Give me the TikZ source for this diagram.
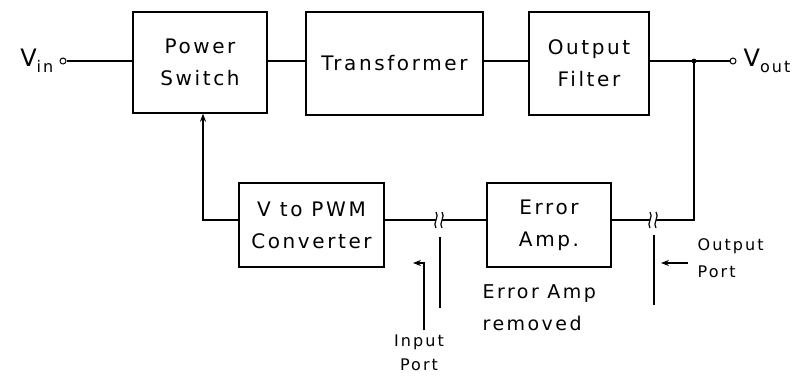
\documentclass[tikz,border=0pt]{standalone}
\usepackage{fontspec}
\setmainfont{DejaVu Sans}[LetterSpace=13]
\usetikzlibrary{arrows.meta}
\begin{document}
\begin{tikzpicture}[x=1pt,y=-1pt,
  line width=1.3pt,
  blk/.style={draw, line width=1.4pt, align=center, inner sep=0pt,
    font=\fontsize{20}{32}\selectfont},
  lbl/.style={align=left, inner sep=0pt, font=\fontsize{16}{27}\selectfont},
  term/.style={circle, draw, line width=1pt, minimum size=6pt, inner sep=0pt, fill=white},
  tip/.style={-{Stealth[length=8pt,width=6pt]}}]
\useasboundingbox (0,0) rectangle (798,376);
% blocks
\node[blk, minimum width=134pt, minimum height=101pt] (ps) at (200,62.5) {Power\\Switch};
\node[blk, minimum width=177pt, minimum height=103pt] (tr) at (394.5,63.5) {Transformer};
\node[blk, minimum width=120pt, minimum height=103pt] (of) at (589,63.5) {Output\\Filter};
\node[blk, minimum width=145pt, minimum height=84pt] (pwm) at (311.5,225) {V to PWM\\Converter};
\node[blk, minimum width=124pt, minimum height=84pt] (ea) at (549,225) {Error\\Amp.};
% terminals
\node[term] (vin) at (63,61) {};
\node[term] (vout) at (733,61) {};
\node[anchor=east, inner sep=0pt, font=\fontsize{24}{26}\selectfont] (vinl) at (54,61) {V\raisebox{-6pt}{\fontsize{16}{16}\selectfont in}};
\node[anchor=west, inner sep=0pt, font=\fontsize{24}{26}\selectfont] (voutl) at (743,61) {V\raisebox{-6pt}{\fontsize{16}{16}\selectfont out}};
\coordinate (jn) at (694,61);
\fill (jn) circle (2.4pt);
% forward path
\draw (vin) -- (vin -| ps.west);
\draw (ps.east |- 61,61) -- (tr.west |- 61,61);
\draw (tr.east |- 61,61) -- (of.west |- 61,61);
\draw (of.east |- 61,61) -- (jn) -- (vout);
% feedback path
\coordinate (c1) at (694,220);
\coordinate (b2r) at (656,220);
\coordinate (b2l) at (650,220);
\coordinate (b1r) at (442,220);
\coordinate (b1l) at (436,220);
\coordinate (c2) at (203,220);
\draw (jn) -- (c1) -- (b2r);
\draw (b2l) -- (ea.east |- b2l);
\draw (ea.west |- b1r) -- (b1r);
\draw (b1l) -- (pwm.east |- b1l);
\draw[tip] (pwm.west |- c2) -- (c2) -- (c2 |- ps.south);
% break marks
\foreach \bx in {436,442,650,656}{
  \draw[line width=1.2pt] (\bx,212) .. controls (\bx+4,216) and (\bx-4,224) .. (\bx,228);
}
% ports
\coordinate (ip1) at (440,237);
\coordinate (ip2) at (440,308);
\draw (ip1) -- (ip2);
\coordinate (ia1) at (424,330);
\coordinate (ia2) at (424,263);
\coordinate (ia3) at (413,263);
\draw[tip, line width=1.2pt] (ia1) -- (ia2) -- (ia3);
\node[lbl, align=center, anchor=south, font=\fontsize{16}{24}\selectfont] (ipl) at (419,371) {Input\\Port};
\coordinate (op1) at (654,235);
\coordinate (op2) at (654,305);
\draw (op1) -- (op2);
\coordinate (oa1) at (688,263);
\coordinate (oa2) at (661,263);
\draw[tip, line width=1.2pt] (oa1) -- (oa2);
\node[lbl, anchor=north west] (opl) at (697,238) {Output\\Port};
\node[lbl, anchor=north west, font=\fontsize{19}{32}\selectfont] (eal) at (482,284) {Error Amp\\removed};
\end{tikzpicture}
\end{document}
